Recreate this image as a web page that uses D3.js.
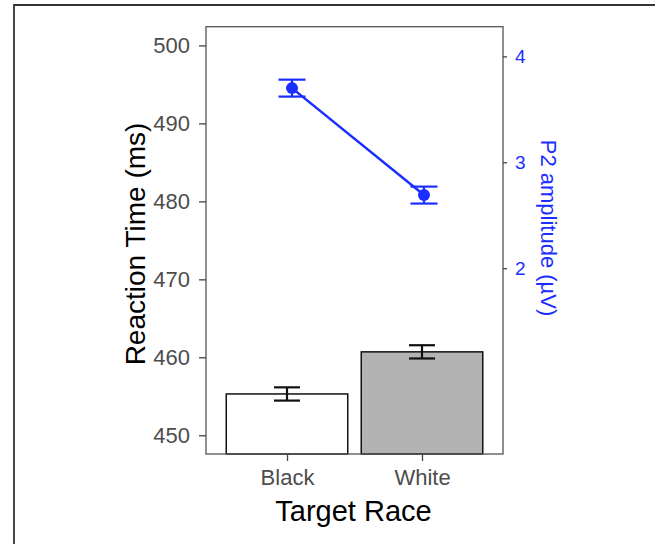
<!DOCTYPE html>
<html>
<head>
  <meta charset="utf-8">
  <title>Reaction time and P2 amplitude</title>
  <style>
    body { margin: 0; background: white; }
    svg text { font-family: "Liberation Sans", Arial, Helvetica, sans-serif; }
  </style>
</head>
<body>
  <div id="chart"></div>
  <script src="https://cdn.jsdelivr.net/npm/d3@7"></script>
  <script>
    // values
    const races = ["Black", "White"];
    const rtMean = [455.3, 460.7];
    const rtSE = [0.85, 0.85];
    const p2Mean = [3.70, 2.69];
    const p2SE = [0.08, 0.08];
    const rtTicks = [450, 460, 470, 480, 490, 500];
    const p2Ticks = [2, 3, 4];
    const barFills = ["#ffffff", "#b3b3b3"];

    const width = 655, height = 544;
    const panel = { left: 206, right: 503, top: 26.7, bottom: 454 };
    const blue = "#1a2eff";

    let svg = d3.select("#chart").append("svg")
      .attr("width", width)
      .attr("height", height);

    // outer frame (top and left edges only visible)
    svg.append("path")
      .attr("d", `M14,${height} L14,5 L${width},5`)
      .attr("fill", "none")
      .attr("stroke", "#333")
      .attr("stroke-width", 1.8);

    let x = d3.scalePoint().domain(races)
      .range([panel.left, panel.right]).padding(0.6);
    const barW = x.step() * 0.9;

    // the P2 layer was overlaid with slightly shifted positions
    let xP2 = d3.scalePoint().domain(races).range([292, 424]);

    let yRT = d3.scaleLinear().domain([447.6, 502.4]).range([panel.bottom, panel.top]);
    let yP2 = d3.scaleLinear().domain([0.245, 4.28]).range([panel.bottom, panel.top]);

    let rows = races.map((r, i) => ({ race: r, rt: rtMean[i], rtSE: rtSE[i], p2: p2Mean[i], p2SE: p2SE[i], fill: barFills[i] }));

    // bars
    svg.selectAll(".bar")
      .data(rows)
      .enter().append("rect")
        .attr("x", d => x(d.race) - barW / 2)
        .attr("width", barW)
        .attr("y", d => yRT(d.rt))
        .attr("height", d => panel.bottom - yRT(d.rt))
        .attr("fill", d => d.fill)
        .attr("stroke", "#111")
        .attr("stroke-width", 1.5);

    // RT error bars
    const capW = 26;
    let rtErr = svg.selectAll(".rterr").data(rows).enter().append("g")
      .attr("stroke", "#111").attr("stroke-width", 2.2).attr("fill", "none");
    rtErr.append("line")
      .attr("x1", d => x(d.race)).attr("x2", d => x(d.race))
      .attr("y1", d => yRT(d.rt - d.rtSE)).attr("y2", d => yRT(d.rt + d.rtSE));
    rtErr.append("line")
      .attr("x1", d => x(d.race) - capW / 2).attr("x2", d => x(d.race) + capW / 2)
      .attr("y1", d => yRT(d.rt + d.rtSE)).attr("y2", d => yRT(d.rt + d.rtSE));
    rtErr.append("line")
      .attr("x1", d => x(d.race) - capW / 2).attr("x2", d => x(d.race) + capW / 2)
      .attr("y1", d => yRT(d.rt - d.rtSE)).attr("y2", d => yRT(d.rt - d.rtSE));

    // P2 line, error bars, points
    svg.append("path")
      .datum(rows)
      .attr("fill", "none")
      .attr("stroke", blue)
      .attr("stroke-width", 2.5)
      .attr("d", d3.line().x(d => xP2(d.race)).y(d => yP2(d.p2)));

    let p2Err = svg.selectAll(".p2err").data(rows).enter().append("g")
      .attr("stroke", blue).attr("stroke-width", 2.2).attr("fill", "none");
    p2Err.append("line")
      .attr("x1", d => xP2(d.race)).attr("x2", d => xP2(d.race))
      .attr("y1", d => yP2(d.p2 - d.p2SE)).attr("y2", d => yP2(d.p2 + d.p2SE));
    p2Err.append("line")
      .attr("x1", d => xP2(d.race) - capW / 2 - 0.5).attr("x2", d => xP2(d.race) + capW / 2 + 0.5)
      .attr("y1", d => yP2(d.p2 + d.p2SE)).attr("y2", d => yP2(d.p2 + d.p2SE));
    p2Err.append("line")
      .attr("x1", d => xP2(d.race) - capW / 2 - 0.5).attr("x2", d => xP2(d.race) + capW / 2 + 0.5)
      .attr("y1", d => yP2(d.p2 - d.p2SE)).attr("y2", d => yP2(d.p2 - d.p2SE));

    svg.selectAll(".pt").data(rows).enter().append("circle")
      .attr("cx", d => xP2(d.race))
      .attr("cy", d => yP2(d.p2))
      .attr("r", 6)
      .attr("fill", blue);

    // panel border
    svg.append("rect")
      .attr("x", panel.left).attr("y", panel.top)
      .attr("width", panel.right - panel.left)
      .attr("height", panel.bottom - panel.top)
      .attr("fill", "none")
      .attr("stroke", "#555")
      .attr("stroke-width", 1.3);

    // left axis
    let leftAxis = svg.append("g")
      .attr("transform", `translate(${panel.left},0)`)
      .call(d3.axisLeft(yRT).tickValues(rtTicks).tickSize(7).tickPadding(9));
    leftAxis.select(".domain").remove();
    leftAxis.selectAll("line").attr("stroke", "#444").attr("stroke-width", 1.3);
    leftAxis.selectAll("text").attr("fill", "#4d4d4d").style("font-size", "22px");

    // bottom axis
    let bottomAxis = svg.append("g")
      .attr("transform", `translate(0,${panel.bottom})`)
      .call(d3.axisBottom(x).tickSize(7).tickPadding(8));
    bottomAxis.select(".domain").remove();
    bottomAxis.selectAll("line").attr("stroke", "#444").attr("stroke-width", 1.3);
    bottomAxis.selectAll("text").attr("fill", "#4d4d4d").style("font-size", "22px");

    // right axis
    let rightAxis = svg.append("g")
      .attr("transform", `translate(${panel.right},0)`)
      .call(d3.axisRight(yP2).tickValues(p2Ticks).tickFormat(d3.format("d")).tickSize(4).tickPadding(8));
    rightAxis.select(".domain").remove();
    rightAxis.selectAll("line").attr("stroke", "#444").attr("stroke-width", 1.3);
    rightAxis.selectAll("text").attr("fill", blue).style("font-size", "19px");

    // axis titles
    svg.append("text")
      .attr("transform", "translate(145,244) rotate(-90)")
      .attr("text-anchor", "middle")
      .attr("fill", "#000")
      .style("font-size", "28px")
      .text("Reaction Time (ms)");

    svg.append("text")
      .attr("x", (panel.left + panel.right) / 2 - 1)
      .attr("y", 521)
      .attr("text-anchor", "middle")
      .attr("fill", "#000")
      .style("font-size", "29px")
      .text("Target Race");

    svg.append("text")
      .attr("transform", "translate(541,228) rotate(90)")
      .attr("text-anchor", "middle")
      .attr("fill", blue)
      .style("font-size", "22px")
      .text("P2 amplitude (µV)");
  </script>
</body>
</html>
